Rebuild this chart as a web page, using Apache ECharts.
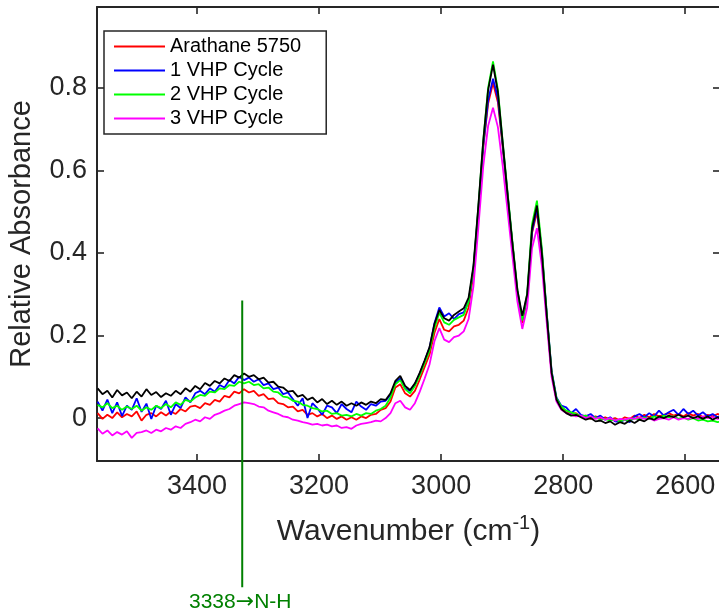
<!DOCTYPE html>
<html><head><meta charset="utf-8">
<script src="https://cdn.jsdelivr.net/npm/echarts@6/dist/echarts.min.js"></script>
<style>html,body{margin:0;padding:0;background:#fff}#c{width:719px;height:613px}</style>
</head><body><div id="c"></div>
<script>
const wavenumbers = [
3563,3555,3547,3539,3531,3523,3515,3507,3499,3491,
3483,3475,3467,3459,3451,3443,3435,3427,3419,3411,
3403,3395,3387,3379,3371,3363,3355,3347,3339,3331,
3323,3315,3307,3299,3291,3283,3275,3267,3259,3251,
3243,3235,3227,3219,3211,3203,3195,3187,3179,3171,
3163,3155,3147,3139,3131,3123,3115,3107,3099,3091,
3083,3075,3067,3059,3051,3043,3035,3027,3019,3011,
3003,2995,2987,2979,2971,2963,2955,2947,2939,2931,
2923,2915,2907,2899,2891,2883,2875,2867,2859,2851,
2843,2835,2827,2819,2811,2803,2795,2787,2779,2771,
2763,2755,2747,2739,2731,2723,2715,2707,2699,2691,
2683,2675,2667,2659,2651,2643,2635,2627,2619,2611,
2603,2595,2587,2579,2571,2563,2555,2547,2539];

const arathane5750 = [
0.012,-0.002,0.008,0.000,0.014,0.002,0.010,0.004,0.016,-0.006,
0.008,0.012,0.004,0.014,0.006,0.016,0.010,0.022,0.016,0.028,
0.030,0.024,0.036,0.032,0.044,0.040,0.054,0.050,0.064,0.060,
0.070,0.062,0.066,0.054,0.058,0.046,0.048,0.036,0.034,0.026,
0.028,0.016,0.020,0.008,0.012,0.004,0.010,0.000,0.006,-0.002,
0.004,-0.004,0.002,-0.004,0.004,0.000,0.008,0.010,0.020,0.024,
0.040,0.074,0.082,0.060,0.052,0.066,0.094,0.124,0.154,0.206,
0.240,0.214,0.210,0.222,0.226,0.236,0.268,0.350,0.498,0.655,
0.762,0.812,0.765,0.655,0.535,0.418,0.300,0.230,0.290,0.448,
0.500,0.398,0.248,0.108,0.044,0.024,0.014,0.010,0.012,0.004,
0.006,-0.002,0.004,-0.002,0.002,-0.004,0.000,-0.006,0.002,-0.002,
0.006,0.000,0.008,0.002,0.010,0.004,0.008,0.012,0.006,0.010,
0.004,0.012,0.006,0.010,0.002,0.008,0.004,0.010,0.006];

const vhpCycle1 = [
0.040,0.018,0.045,0.012,0.038,0.005,0.030,0.020,0.048,0.015,
0.035,-0.002,0.030,0.022,0.042,0.008,0.034,0.024,0.050,0.038,
0.060,0.066,0.058,0.072,0.064,0.080,0.074,0.092,0.084,0.100,
0.092,0.098,0.088,0.094,0.080,0.084,0.070,0.074,0.058,0.062,
0.046,0.030,0.048,0.000,0.036,0.024,0.008,0.030,0.026,0.012,
0.034,0.022,0.014,0.040,0.028,0.020,0.034,0.030,0.040,0.042,
0.056,0.086,0.096,0.072,0.066,0.082,0.108,0.138,0.170,0.230,
0.268,0.246,0.254,0.240,0.252,0.256,0.282,0.362,0.505,0.660,
0.770,0.822,0.775,0.660,0.540,0.420,0.305,0.238,0.295,0.452,
0.508,0.405,0.255,0.115,0.050,0.030,0.026,0.012,0.022,0.008,
0.004,0.010,0.000,0.006,-0.004,0.002,-0.008,-0.010,-0.004,-0.010,
0.004,0.010,0.002,0.012,0.004,0.018,0.006,0.014,0.020,0.008,
0.022,0.010,0.018,0.006,0.014,0.004,0.010,0.002,0.006];

const vhpCycle2 = [
0.032,0.026,0.036,0.024,0.030,0.020,0.028,0.022,0.030,0.018,
0.026,0.020,0.030,0.024,0.034,0.026,0.038,0.032,0.044,0.040,
0.050,0.056,0.054,0.064,0.062,0.072,0.070,0.080,0.078,0.088,
0.084,0.088,0.080,0.082,0.072,0.074,0.064,0.062,0.052,0.050,
0.042,0.040,0.032,0.030,0.024,0.022,0.016,0.018,0.010,0.012,
0.006,0.008,0.004,0.010,0.006,0.012,0.010,0.018,0.022,0.030,
0.050,0.082,0.092,0.070,0.060,0.078,0.104,0.134,0.164,0.218,
0.255,0.232,0.226,0.238,0.244,0.250,0.282,0.365,0.512,0.672,
0.800,0.864,0.795,0.668,0.545,0.425,0.312,0.236,0.302,0.470,
0.527,0.412,0.255,0.112,0.048,0.028,0.018,0.014,0.010,0.004,
0.006,0.000,0.002,-0.004,-0.002,-0.006,-0.004,-0.008,-0.004,-0.006,
0.000,-0.004,0.002,-0.002,0.004,0.000,0.006,0.002,0.004,-0.002,
0.002,-0.004,0.000,-0.006,-0.004,-0.008,-0.006,-0.010,-0.008];

const vhpCycle3 = [
-0.025,-0.038,-0.030,-0.042,-0.034,-0.040,-0.032,-0.048,-0.036,-0.034,
-0.030,-0.036,-0.028,-0.032,-0.024,-0.028,-0.020,-0.024,-0.014,-0.010,
-0.004,-0.008,0.002,-0.002,0.008,0.012,0.018,0.022,0.030,0.034,
0.038,0.036,0.034,0.028,0.026,0.018,0.014,0.010,0.004,0.002,
-0.004,-0.006,-0.010,-0.012,-0.016,-0.014,-0.018,-0.016,-0.020,-0.018,
-0.024,-0.022,-0.026,-0.018,-0.014,-0.012,-0.010,-0.006,-0.008,0.000,
0.012,0.036,0.042,0.026,0.020,0.036,0.064,0.096,0.130,0.186,
0.218,0.190,0.184,0.196,0.200,0.210,0.240,0.320,0.462,0.610,
0.708,0.752,0.705,0.610,0.500,0.390,0.282,0.216,0.268,0.412,
0.460,0.370,0.232,0.100,0.040,0.020,0.012,0.008,0.004,0.006,
0.000,0.004,-0.002,0.002,-0.004,0.000,-0.006,-0.002,-0.004,0.000,
-0.002,0.002,-0.002,0.000,-0.006,-0.002,0.000,-0.004,0.002,-0.004,
0.000,-0.002,0.002,-0.002,0.004,0.000,0.002,-0.002,0.000];

const unlabeledBlack = [
0.072,0.058,0.066,0.050,0.068,0.055,0.062,0.048,0.064,0.052,
0.070,0.056,0.063,0.051,0.060,0.054,0.066,0.058,0.072,0.064,
0.078,0.070,0.085,0.078,0.090,0.084,0.096,0.090,0.104,0.098,
0.108,0.100,0.104,0.094,0.098,0.086,0.088,0.076,0.074,0.064,
0.066,0.052,0.056,0.044,0.050,0.038,0.046,0.034,0.042,0.032,
0.040,0.030,0.036,0.030,0.038,0.032,0.040,0.036,0.046,0.044,
0.060,0.090,0.102,0.078,0.068,0.084,0.110,0.140,0.172,0.228,
0.262,0.242,0.236,0.250,0.258,0.266,0.292,0.370,0.515,0.672,
0.795,0.856,0.790,0.665,0.540,0.420,0.310,0.248,0.300,0.460,
0.515,0.400,0.250,0.110,0.045,0.022,0.012,0.006,0.008,0.002,
-0.004,0.000,-0.008,-0.006,-0.012,-0.008,-0.016,-0.010,-0.014,-0.006,
-0.012,-0.004,-0.008,0.000,-0.004,0.004,0.000,0.006,0.002,0.008,
0.002,0.006,0.000,0.004,-0.002,0.004,-0.004,0.002,-0.004];

const legendNames = ['Arathane 5750','1 VHP Cycle','2 VHP Cycle','3 VHP Cycle'];
const xTickValues = [3400,3200,3000,2800,2600];
const yTickValues = [0,0.2,0.4,0.6,0.8];
const xRange = [2543,3564];
const yRange = [-0.104,0.996];
const xTitle = 'Wavenumber (cm{sup|-1})';
const yTitle = 'Relative Absorbance';
const annotationX = 3326;
const annotationYTop = 0.285;
const annotationYBottom = -0.41;
const annotationNumber = '3338';
const annotationBond = 'N-H';

const FONT = '"Liberation Sans", Arial, sans-serif';
const AX = '#262626';

const chart = echarts.init(document.getElementById('c'), null, {renderer:'canvas'});

function pairs(vals){ return wavenumbers.map((w,i)=>[w, vals[i]]); }
function mkSeries(name, vals, color){
  return {name:name, type:'line', data:pairs(vals), symbol:'none', showSymbol:false,
    lineStyle:{color:color, width:1.8}, itemStyle:{color:color}, xAxisIndex:0, yAxisIndex:0, silent:true};
}
const tickStyle = {color:AX, width:1.6};
const plainNum = v => String(v);
const xBase = {type:'value', min:xRange[0], max:xRange[1], inverse:true, splitLine:{show:false},
  axisLine:{show:true, onZero:false, lineStyle:{color:AX, width:2}}};
const yBase = {type:'value', min:yRange[0], max:yRange[1], splitLine:{show:false},
  axisLine:{show:true, onZero:false, lineStyle:{color:AX, width:2}}};

chart.setOption({
  animation:false,
  backgroundColor:'#fff',
  grid:{left:97, right:-1, top:7, bottom:152, containLabel:false, outerBoundsMode:'none'},
  legend:{data:legendNames, orient:'vertical', left:104, top:31, padding:[5,25,5,10], itemGap:3,
    itemWidth:51, itemHeight:2, icon:'rect', backgroundColor:'#fff', borderColor:AX, borderWidth:1.5, borderRadius:0,
    selectedMode:false, textStyle:{fontSize:20, color:'#000', fontFamily:FONT, lineHeight:21}},
  xAxis:[
    Object.assign({}, xBase, {position:'bottom',
      axisTick:{show:true, inside:true, length:7, customValues:xTickValues, lineStyle:tickStyle},
      axisLabel:{show:true, customValues:xTickValues, formatter:plainNum, fontSize:27, color:AX, fontFamily:FONT, margin:12}}),
    Object.assign({}, xBase, {position:'top',
      axisTick:{show:true, inside:true, length:7, customValues:xTickValues, lineStyle:tickStyle},
      axisLabel:{show:false}})
  ],
  yAxis:[
    Object.assign({}, yBase, {position:'left',
      axisTick:{show:true, inside:true, length:7, customValues:yTickValues, lineStyle:tickStyle},
      axisLabel:{show:true, customValues:yTickValues, formatter:plainNum, fontSize:27, color:AX, fontFamily:FONT, margin:10},
      name:yTitle, nameLocation:'middle', nameGap:61,
      nameTextStyle:{fontSize:29, color:AX, fontFamily:FONT}}),
    Object.assign({}, yBase, {position:'right',
      axisTick:{show:true, inside:true, length:7, customValues:yTickValues, lineStyle:tickStyle},
      axisLabel:{show:false}})
  ],
  series:[
    mkSeries(legendNames[0], arathane5750, '#ff0000'),
    mkSeries(legendNames[1], vhpCycle1, '#0000ff'),
    mkSeries(legendNames[2], vhpCycle2, '#00ff00'),
    mkSeries(legendNames[3], vhpCycle3, '#ff00ff'),
    mkSeries('Unlabeled', unlabeledBlack, '#000000')
  ]
});

const pTop = chart.convertToPixel({xAxisIndex:0, yAxisIndex:0}, [annotationX, annotationYTop]);
const pBot = chart.convertToPixel({xAxisIndex:0, yAxisIndex:0}, [annotationX, annotationYBottom]);
const pL = chart.convertToPixel({xAxisIndex:0, yAxisIndex:0}, [xRange[1], yRange[0]]);
const pR = chart.convertToPixel({xAxisIndex:0, yAxisIndex:0}, [xRange[0], yRange[0]]);
chart.setOption({graphic:[
  {type:'text', x:(pL[0]+pR[0])/2, y:pL[1]+89, style:{
    text:xTitle, fill:AX, fontSize:30, fontFamily:FONT, align:'center', verticalAlign:'bottom',
    rich:{sup:{fontSize:20, fill:AX, fontFamily:FONT, verticalAlign:'bottom', padding:[0,0,17,0]}}}},
  {type:'line', z:100, shape:{x1:pTop[0], y1:pTop[1], x2:pBot[0], y2:pBot[1]}, style:{stroke:'#008000', lineWidth:2}},
  {type:'text', z:100, x:pBot[0]-2, y:pBot[1]+15, style:{
    text:annotationNumber + '{ar|\u2192}' + annotationBond,
    rich:{ar:{fontFamily:'"DejaVu Sans", sans-serif', fontSize:22, fill:'#008000'}},
    fill:'#008000', fontSize:21, fontFamily:FONT, align:'center', verticalAlign:'middle'}}
]});
</script></body></html>
